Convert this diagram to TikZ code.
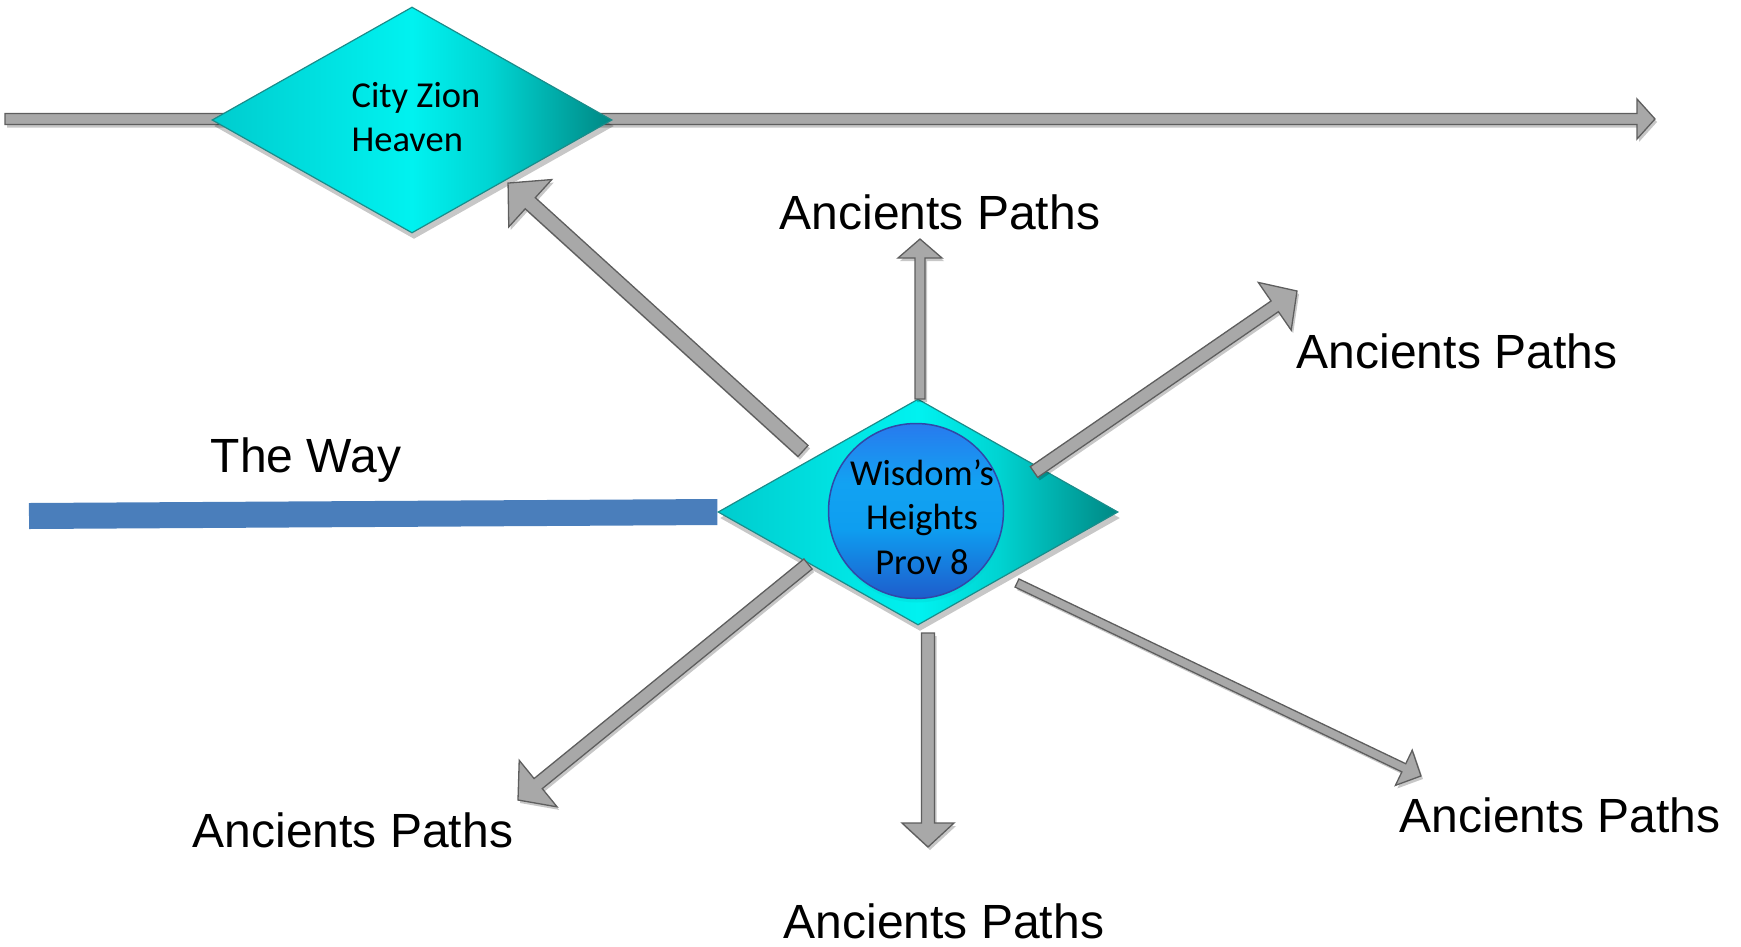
\documentclass[tikz,border=0pt]{standalone}
\usepackage{fontspec}
\setmainfont{Liberation Sans}
\newfontfamily\calfont{Carlito}
\usetikzlibrary{shapes.geometric,shadows,calc,backgrounds}
\definecolor{gemedge}{HTML}{1A8C8A}
\definecolor{arrfill}{HTML}{A8A8A8}
\definecolor{arredge}{HTML}{5E5E5E}
\definecolor{wayblue}{HTML}{4A7EBB}
\definecolor{orbedge}{HTML}{3048A8}
\definecolor{shadowcyan}{HTML}{00D0D0}
\pgfdeclarehorizontalshading{gemshade}{100bp}{%
  color(0bp)=(rgb,255:red,0;green,204;blue,206);
  color(25bp)=(rgb,255:red,0;green,204;blue,206);
  color(50bp)=(rgb,255:red,0;green,242;blue,240);
  color(60bp)=(rgb,255:red,0;green,212;blue,210);
  color(75bp)=(rgb,255:red,0;green,136;blue,132);
  color(100bp)=(rgb,255:red,0;green,136;blue,132)}
\pgfdeclareverticalshading{orbshade}{100bp}{%
  color(0bp)=(rgb,255:red,30;green,92;blue,204);
  color(25bp)=(rgb,255:red,30;green,92;blue,204);
  color(45bp)=(rgb,255:red,14;green,158;blue,240);
  color(58bp)=(rgb,255:red,18;green,162;blue,242);
  color(75bp)=(rgb,255:red,40;green,122;blue,238);
  color(100bp)=(rgb,255:red,40;green,122;blue,238)}
\tikzset{
  gem/.style={diamond, draw=gemedge, line width=1.2pt, shading=gemshade,
    minimum width=400pt, minimum height=226pt, inner sep=0pt,
    drop shadow={shadow xshift=2pt, shadow yshift=-6pt, opacity=.22, fill=black}},
  orb/.style={circle, draw=orbedge, line width=1.5pt, shading=orbshade,
    minimum size=175pt, inner sep=0pt,
    drop shadow={shadow xshift=1pt, shadow yshift=-4pt, opacity=.3, fill=shadowcyan}},
  caltext/.style={inner sep=0pt, font=\calfont\fontsize{36.5}{44.5}\selectfont},
  lbl/.style={anchor=base, inner sep=0pt, font=\fontsize{48}{58}\selectfont},
  barrow/.style={fill=arrfill, draw=arredge, line width=1.3pt, line join=miter,
    drop shadow={shadow xshift=2pt, shadow yshift=-3pt, opacity=.22, fill=black}},
  waybar/.style={draw=wayblue, line width=26pt, line cap=butt}
}
% block arrow: tail, tip, half shaft width, half head width, head length (pt)
\newcommand\blkarrow[5]{%
  \path let \p1=(#1), \p2=(#2) in
    \pgfextra{\pgfmathsetmacro\baang{atan2(\y2-\y1,\x2-\x1)}%
              \pgfmathsetmacro\balen{veclen(\x2-\x1,\y2-\y1)}%
              \global\let\baangG\baang \global\let\balenG\balen};
  \pgfmathsetmacro\babase{\balenG-#5}%
  \draw[barrow, shift={(#1)}, rotate=\baangG]
    (0pt,#3pt) -- (\babase pt,#3pt) -- (\babase pt,#4pt) -- (\balenG pt,0pt)
    -- (\babase pt,-#4pt) -- (\babase pt,-#3pt) -- (0pt,-#3pt) -- cycle;
}
\begin{document}
\begin{tikzpicture}[x=1pt,y=-1pt]
\useasboundingbox (0,0) rectangle (1741,946);
% coordinates
\coordinate (topL) at (5,119);
\coordinate (topR) at (1655,119);
\coordinate (wayL) at (29,516);
\coordinate (t1) at (803,451); \coordinate (h1) at (508,183);
\coordinate (t2) at (920,399); \coordinate (h2) at (920,239);
\coordinate (t3) at (1034,472); \coordinate (h3) at (1297,291);
\coordinate (t4) at (808,564); \coordinate (h4) at (518,800);
\coordinate (t5) at (928,633); \coordinate (h5) at (928,847);
\coordinate (t6) at (1017,583); \coordinate (h6) at (1421,776);
% top line
\blkarrow{topL}{topR}{5.5}{20}{18}
% top diamond
\node[gem] (zion) at (412,120) {};
\node[caltext, align=left] (ziontxt) at (416,117) {City Zion\\Heaven};
% centre diamond
\node[gem] (cd) at (918,512) {};
% the way bar, behind
\begin{scope}[on background layer]
\draw[waybar] (wayL) -- (cd.west);
\end{scope}
% arrows
\blkarrow{t1}{h1}{7.5}{32}{30}
\blkarrow{t2}{h2}{5}{22}{19}
\blkarrow{t3}{h3}{6.5}{29}{27}
\blkarrow{t4}{h4}{6.5}{30}{26}
\blkarrow{t5}{h5}{6.5}{26}{24}
\blkarrow{t6}{h6}{4.5}{19.5}{19}
% circle
\node[orb] (wh) at (916,511) {};
\node[caltext, align=center] (whtxt) at (922,517) {Wisdom’s\\Heights\\Prov 8};
% labels
\node[lbl] (way) at (306,472) {The Way};
\node[lbl] (p1) at (940,229) {Ancients Paths};
\node[lbl] (p2) at (1457,368) {Ancients Paths};
\node[lbl] (p3) at (353,847) {Ancients Paths};
\node[lbl] (p4) at (944,938) {Ancients Paths};
\node[lbl] (p5) at (1560,832) {Ancients Paths};
\end{tikzpicture}
\end{document}
